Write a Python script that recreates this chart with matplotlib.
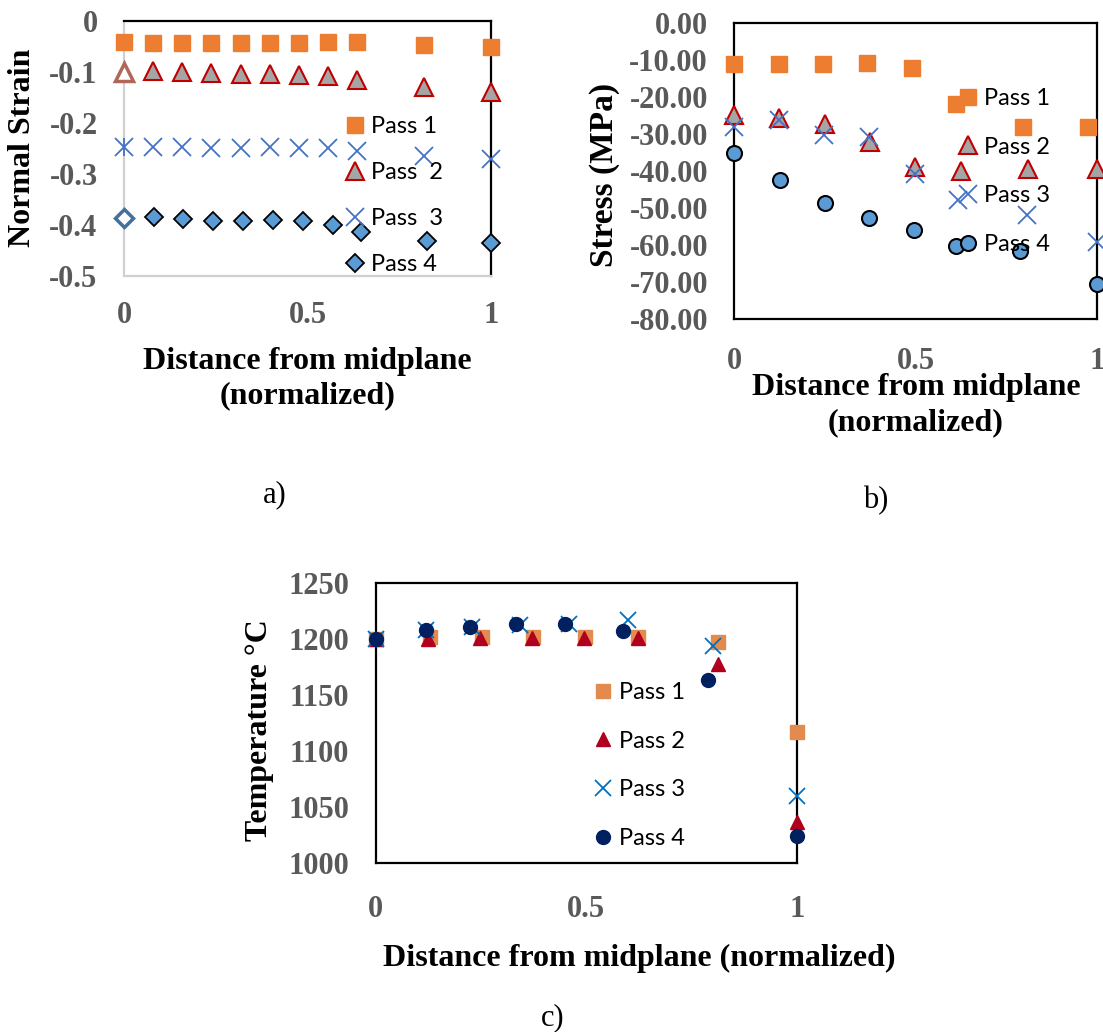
import matplotlib
matplotlib.use("Agg")
import matplotlib.pyplot as plt

plt.rcParams['axes.unicode_minus'] = False

W, H = 1103, 1032
SERIF = 'Liberation Serif'
SANS = 'Lato'
TICK_GRAY = '#595959'

# ---------------- data ----------------
# a) normal strain
a_x = [0, 0.079, 0.158, 0.238, 0.318, 0.397, 0.477, 0.556, 0.635, 0.818, 1.0]
a_x4 = [0, 0.081, 0.161, 0.243, 0.323, 0.406, 0.488, 0.570, 0.647, 0.825, 1.0]
a_pass1 = [-0.042, -0.043, -0.043, -0.044, -0.044, -0.044, -0.044, -0.042, -0.041, -0.048, -0.051]
a_pass2 = [-0.100, -0.098, -0.100, -0.102, -0.104, -0.104, -0.106, -0.108, -0.116, -0.130, -0.139]
a_pass3 = [-0.248, -0.247, -0.248, -0.250, -0.250, -0.248, -0.250, -0.250, -0.256, -0.265, -0.270]
a_pass4 = [-0.387, -0.385, -0.389, -0.392, -0.393, -0.390, -0.392, -0.400, -0.414, -0.431, -0.435]
a_yticks = [0, -0.1, -0.2, -0.3, -0.4, -0.5]
a_ylabels = ['0', '-0.1', '-0.2', '-0.3', '-0.4', '-0.5']

# b) stress
b_x1 = [0, 0.123, 0.244, 0.365, 0.489, 0.611, 0.794, 0.975]
b_pass1 = [-11.2, -11.2, -11.2, -10.8, -12.3, -22.0, -28.1, -28.1]
b_x2 = [0, 0.123, 0.250, 0.374, 0.497, 0.624, 0.810, 1.0]
b_pass2 = [-24.9, -25.8, -27.2, -32.2, -38.9, -40.0, -39.4, -39.4]
b_x3 = [0, 0.123, 0.247, 0.372, 0.497, 0.617, 0.805, 1.0]
b_pass3 = [-28.1, -26.3, -30.4, -30.8, -40.7, -47.9, -52.0, -59.2]
b_x4 = [0, 0.126, 0.250, 0.372, 0.495, 0.612, 0.787, 1.0]
b_pass4 = [-35.1, -42.3, -48.6, -52.6, -55.8, -60.3, -61.6, -70.6]
b_yticks = [0, -10, -20, -30, -40, -50, -60, -70, -80]
b_ylabels = ['0.00', '-10.00', '-20.00', '-30.00', '-40.00',
             '-50.00', '-60.00', '-70.00', '-80.00']

# c) temperature
c_x1 = [0, 0.129, 0.252, 0.373, 0.497, 0.624, 0.814, 1.0]
c_pass1 = [1200, 1202, 1202, 1202, 1202, 1202, 1198, 1117]
c_x2 = [0, 0.124, 0.248, 0.371, 0.495, 0.624, 0.812, 1.0]
c_pass2 = [1200, 1200, 1201, 1201, 1201, 1201, 1178, 1037]
c_x3 = [0, 0.119, 0.228, 0.343, 0.458, 0.600, 0.800, 1.0]
c_pass3 = [1200, 1208, 1211, 1213, 1214, 1217, 1194, 1060]
c_x4 = [0, 0.119, 0.224, 0.333, 0.450, 0.588, 0.790, 1.0]
c_pass4 = [1200, 1208, 1211, 1214, 1214, 1207, 1164, 1024]
c_yticks = [1000, 1050, 1100, 1150, 1200, 1250]

x_ticks = [0, 0.5, 1]
x_ticklabels = ['0', '0.5', '1']


def px_axes(left, top, right, bottom):
    return [left / W, 1 - bottom / H, (right - left) / W, (bottom - top) / H]


def ftext(x, y, s, **kw):
    fig.text(x / W, 1 - y / H, s, ha='center', va='center', **kw)


def style_axes(ax, xpad, ypad):
    ax.set_xlim(0, 1)
    ax.set_xticks(x_ticks)
    ax.set_xticklabels(x_ticklabels)
    ax.tick_params(length=0, labelsize=22, labelcolor=TICK_GRAY)
    ax.tick_params(axis='x', pad=xpad)
    ax.tick_params(axis='y', pad=ypad)
    for lab in ax.get_xticklabels() + ax.get_yticklabels():
        lab.set_family(SERIF)
        lab.set_fontweight('bold')
    for sp in ax.spines.values():
        sp.set_linewidth(1.6)
        sp.set_color('black')


def add_legend(ax, x, y, spacing):
    leg = ax.legend(loc='upper left', bbox_to_anchor=(x / W, 1 - y / H),
                    bbox_transform=fig.transFigure, frameon=False,
                    prop={'family': SANS, 'size': 17}, borderpad=0,
                    handlelength=0.8, handletextpad=0.25, labelspacing=spacing,
                    borderaxespad=0)
    return leg


fig = plt.figure(figsize=(W / 100, H / 100), dpi=100)

# ---------------- a) ----------------
ax = fig.add_axes(px_axes(124, 20.7, 491, 276))
mk = dict(linestyle='none', clip_on=False, zorder=3)
ax.plot(a_x, a_pass1, marker='s', ms=12.2, color='#ED7D31', mec='#ED7D31',
        label='Pass 1', **mk)
ax.plot(a_x[1:], a_pass2[1:], marker='^', ms=13, mfc='#A5A5A5', mec='#C00000',
        mew=1.5, label='Pass  2', **mk)
ax.plot(a_x[:1], a_pass2[:1], marker='^', ms=13, mfc='white', mec='#B0675A',
        mew=2.5, **mk)
ax.plot(a_x, a_pass3, marker='x', ms=13.5, color='#4472C4', mew=1.3,
        label='Pass  3', **mk)
ax.plot(a_x[:1], a_pass3[:1], marker='|', ms=13.5, color='#4472C4', mew=1.3, **mk)
ax.plot(a_x4[1:], a_pass4[1:], marker='D', ms=9.2, mfc='#5B9BD5', mec='black',
        mew=1.3, label='Pass 4', **mk)
ax.plot(a_x4[:1], a_pass4[:1], marker='D', ms=9.2, mfc='white', mec='#41719C',
        mew=2.5, **mk)
ax.set_ylim(-0.5, 0)
ax.set_yticks(a_yticks)
ax.set_yticklabels(a_ylabels)
style_axes(ax, xpad=18, ypad=19)
ax.spines['left'].set_color('#D0D0D0')
ax.spines['bottom'].set_color('#D0D0D0')
add_legend(ax, 346, 116, 1.06)

# ---------------- b) ----------------
ax = fig.add_axes(px_axes(734.3, 22.7, 1097.3, 319.3))
ax.plot(b_x1, b_pass1, marker='s', ms=12.2, color='#ED7D31', mec='#ED7D31',
        label='Pass 1', **mk)
ax.plot(b_x2, b_pass2, marker='^', ms=13, mfc='#A5A5A5', mec='#C00000',
        mew=1.5, label='Pass 2', **mk)
ax.plot(b_x3, b_pass3, marker='x', ms=13.5, color='#4472C4', mew=1.3,
        label='Pass 3', **mk)
ax.plot(b_x4, b_pass4, marker='o', ms=10.8, mfc='#5B9BD5', mec='black',
        mew=1.5, label='Pass 4', **mk)
ax.set_ylim(-80, 0)
ax.set_yticks(b_yticks)
ax.set_yticklabels(b_ylabels)
style_axes(ax, xpad=20, ypad=19)
add_legend(ax, 959, 88, 1.17)

# ---------------- c) ----------------
ax = fig.add_axes(px_axes(375.7, 583.3, 796.7, 863.3))
ax.plot(c_x1, c_pass1, marker='s', ms=10, color='#E38B4E', mec='#E38B4E',
        label='Pass 1', **mk)
ax.plot(c_x2, c_pass2, marker='^', ms=10, color='#B0001E', mec='#B0001E',
        label='Pass 2', **mk)
ax.plot(c_x3, c_pass3, marker='x', ms=12, color='#0070C0', mew=1.3,
        label='Pass 3', **mk)
ax.plot(c_x4, c_pass4, marker='o', ms=10, color='#002060', mec='#002060',
        label='Pass 4', **mk)
ax.set_ylim(1000, 1250)
ax.set_yticks(c_yticks)
style_axes(ax, xpad=23, ypad=19)
add_legend(ax, 594, 682, 1.17)

# ---------------- labels ----------------
lab = dict(family=SERIF, fontweight='bold', fontsize=23, color='black')
ftext(307.5, 362, 'Distance from midplane', **lab)
ftext(307.5, 396, '(normalized)', **lab)
ftext(23, 148, 'Normal Strain', rotation=90, **lab)

ftext(916, 388, 'Distance from midplane', **lab)
ftext(916, 423, '(normalized)', **lab)
ftext(604, 175, 'Stress (MPa)', rotation=90, fontsize=24,
      **{k: v for k, v in lab.items() if k != 'fontsize'})

ftext(639, 958, 'Distance from midplane (normalized)', **lab)
ftext(259, 730, 'Temperature °C', rotation=90, **lab)

cap = dict(family=SERIF, fontsize=22, color='black')
ftext(275, 495, 'a)', **cap)
ftext(876, 501, 'b)', **cap)
ftext(553, 1018, 'c)', **cap)

fig.savefig('out.png', dpi=100)
